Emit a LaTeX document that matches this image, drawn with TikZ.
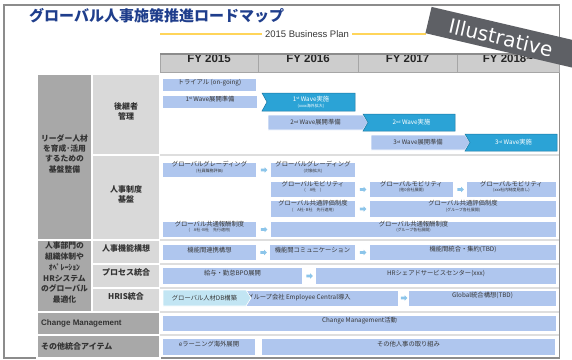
\documentclass[tikz,border=0pt]{standalone}
\usepackage{fontspec}
\setmainfont{Noto Sans CJK JP}
\newfontfamily\arial{Liberation Sans}
\newfontfamily\dejavu{DejaVu Sans}
\usetikzlibrary{fit,calc,shapes.arrows}

\definecolor{lightbox}{HTML}{AFC6EE}
\definecolor{darkbox}{HTML}{2BA3D6}
\definecolor{darkedge}{HTML}{1C78A3}
\definecolor{cyanbox}{HTML}{C2E5F3}
\definecolor{catgray}{HTML}{A8A8A8}
\definecolor{subgray}{HTML}{D9D9D9}
\definecolor{hdrgray}{HTML}{CDCDCD}
\definecolor{titleblue}{HTML}{1F3E8C}
\definecolor{planyellow}{HTML}{FFD55A}
\definecolor{arrowblue}{HTML}{8CC5EA}
\definecolor{txt}{HTML}{383838}
\definecolor{framegray}{HTML}{8C8C8C}
\definecolor{bannergray}{HTML}{5E6065}
\definecolor{sepgray}{HTML}{DEDEDE}

\newcommand\sbt[1]{{\fontsize{4}{4.5}\selectfont #1}}
\newcommand\sps[1]{\raisebox{1.8pt}{\fontsize{3.6}{4}\selectfont #1}}
\newcommand\notchbox[6]{%
  \fill[darkbox, draw=darkedge, line width=0.5pt] (#2,#3) -- (#4,#3) -- (#4,#5) -- (#2,#5) -- ({#2+5},{(#3+#5)/2}) -- cycle;
  \node[dtext] (#1) at ({(#2+#4)/2+2.5},{(#3+#5)/2}) {#6};}
\newcommand\pointbox[7]{%
  \fill[#1, draw=white, line width=0.6pt] (#3,#4) -- ({#5-5},#4) -- (#5,{(#4+#6)/2}) -- ({#5-5},#6) -- (#3,#6) -- cycle;
  \node[btext] (#2) at ({(#3+#5)/2-2.5},{(#4+#6)/2}) {#7};}
\newcommand\garr[3]{\node[garrow] (#1) at ($(#2.east)!0.5!(#3.west)$) {};}

\tikzset{
  btext/.style={inner sep=0pt, text=txt, font=\fontsize{6.3}{7}\selectfont, align=center},
  dtext/.style={inner sep=0pt, text=white, font=\fontsize{6.3}{7}\selectfont, align=center},
  lbox/.style={btext, fill=lightbox},
  hdr/.style={fill=hdrgray, draw=black!35, line width=0.6pt, inner sep=0pt, text=black!85, font=\arial\bfseries\fontsize{11.5}{12}\selectfont},
  catcell/.style={fill=catgray, draw=white, line width=1.2pt, inner sep=0pt, align=center, text=black!80, font=\bfseries\fontsize{7.8}{10.4}\selectfont},
  subcell/.style={fill=subgray, draw=white, line width=1.2pt, inner sep=0pt, align=center, text=black!80, font=\bfseries\fontsize{8}{10}\selectfont},
  leftlabel/.style={anchor=west, inner sep=0pt, text=black!80, font=\bfseries\fontsize{8}{10}\selectfont},
  garrow/.style={single arrow, fill=arrowblue, draw=none, inner sep=1.1pt, minimum height=6.5pt, single arrow head extend=1.4pt},
  sepline/.style={sepgray, line width=1.2pt}
}

\begin{document}
\begin{tikzpicture}[x=1pt,y=-1pt]
\useasboundingbox (0,0) rectangle (572,359);
\clip (0,0) rectangle (572,359);
\fill[white] (0,0) rectangle (572,359);
\draw[framegray, line width=1.5pt] (4,5) rectangle (559.5,358);

% title
\node[anchor=west, inner sep=0pt, text=titleblue, font=\bfseries\fontsize{15}{16}\selectfont] (title) at (29,16) {グローバル人事施策推進ロードマップ};
\node[inner sep=0pt, text=txt, font=\arial\fontsize{9.5}{10}\selectfont] (plan) at (307,34) {2015 Business Plan};
\coordinate (pl) at (160,34);
\coordinate (pr) at (426,34);
\draw[planyellow, line width=1.6pt] (pl) -- ([xshift=-3pt]plan.west);
\draw[planyellow, line width=1.6pt] ([xshift=3pt]plan.east) -- (pr);

% header
\node[hdr, fit={(160,54)(258,72)}] (fy15) {FY 2015};
\node[hdr, fit={(258,54)(358,72)}] (fy16) {FY 2016};
\node[hdr, fit={(358,54)(457,72)}] (fy17) {FY 2017};
\node[hdr, fit={(457,54)(559,72)}] (fy18) {FY 2018\textasciitilde};
\draw[gray!90, line width=1.2pt] (160,54) -- (559,54);

% left cells
\node[catcell, fit={(37,74)(92,240)}] (cat1) {リーダー人材\\を育成･活用\\するための\\基盤整備};
\node[subcell, fit={(92,74)(160,155)}] (sub1) {後継者\\管理};
\node[subcell, fit={(92,155)(160,240)}] (sub2) {人事制度\\基盤};
\node[catcell, font=\bfseries\fontsize{7.8}{10.8}\selectfont, fit={(37,240)(92,312)}] (cat2) {人事部門の\\組織体制や\\ｵﾍﾟﾚｰｼｮﾝ\\HRシステム\\のグローバル\\最適化};
\node[subcell, fit={(92,240)(160,264)}] (sub3) {人事機能構想};
\node[subcell, fit={(92,264)(160,288)}] (sub4) {プロセス統合};
\node[subcell, fit={(92,288)(160,312)}] (sub5) {HRIS統合};
\node[catcell, fit={(37,312)(160,335)}] (cmcell) {};
\node[catcell, fit={(37,335)(160,358)}] (othercell) {};
\node[leftlabel, font=\arial\bfseries\fontsize{8}{10}\selectfont] (cmlab) at (41,323.5) {Change Management};
\node[leftlabel] (otherlab) at (41,346.5) {その他統合アイテム};

% separators in content area
\draw[sepline] (160,155) -- (559,155);
\draw[sepline] (160,240) -- (559,240);
\draw[sepline] (160,264) -- (559,264);
\draw[sepline] (160,288) -- (559,288);
\draw[sepline] (160,312) -- (559,312);
\draw[sepline] (160,335) -- (559,335);

% row 1
\node[lbox, fit={(163,79)(256,91)}] (trial) {トライアル (on-going)};
\node[lbox, fit={(163,96)(257,108)}] (w1p) {1\sps{st} Wave展開準備};
\notchbox{w1}{262}{93}{355}{111}{1\sps{st} Wave実施\\[-1.5pt]\sbt{(xxxx海外拡大)}}
\pointbox{lightbox}{w2p}{268}{115}{368}{130}{2\sps{nd} Wave展開準備}
\notchbox{w2}{363}{114}{455}{131}{2\sps{nd} Wave実施}
\pointbox{lightbox}{w3p}{371}{135}{470}{150}{3\sps{rd} Wave展開準備}
\notchbox{w3}{465}{134}{557}{151}{3\sps{rd} Wave実施}

% row 2
\node[lbox, fit={(163,163)(256,177)}] (gg1) {グローバルグレーディング\\[-1.5pt]\sbt{(社員職務評価)}};
\node[lbox, fit={(271,163)(355,177)}] (gg2) {グローバルグレーディング\\[-1.5pt]\sbt{(対象拡大)}};
\node[lbox, fit={(271,182)(355,197)}] (gm1) {グローバルモビリティ\\[-1.5pt]\sbt{(\quad A社\quad )}};
\node[lbox, fit={(370,182)(453,197)}] (gm2) {グローバルモビリティ\\[-1.5pt]\sbt{(他0会社展開)}};
\node[lbox, fit={(467,182)(556,197)}] (gm3) {グローバルモビリティ\\[-1.5pt]\sbt{(xxx社内制度見直し)}};
\node[lbox, fit={(271,201)(355,217)}] (ge1) {グローバル共通評価制度\\[-1.5pt]\sbt{(\quad A社･B社\quad 先行適用)}};
\node[lbox, fit={(370,201)(556,217)}] (ge2) {グローバル共通評価制度\\[-1.5pt]\sbt{(グループ各社展開)}};
\node[lbox, fit={(163,222)(256,237)}] (gr1) {グローバル共通報酬制度\\[-1.5pt]\sbt{(\quad A社･B社\quad 先行適用)}};
\node[lbox, fit={(271,222)(556,237)}] (gr2) {グローバル共通報酬制度\\[-1.5pt]\sbt{(グループ各社展開)}};
\garr{a1}{gg1}{gg2}
\garr{a2}{gm1}{gm2}
\garr{a3}{gm2}{gm3}
\garr{a4}{ge1}{ge2}
\garr{a5}{gr1}{gr2}

% row 3
\node[lbox, fit={(163,245)(256,260)}] (k1) {機能間連携構想};
\node[lbox, fit={(270,245)(355,260)}] (k2) {機能間コミュニケーション};
\node[lbox, fit={(370,245)(556,260)}] (k3) {機能間統合・集約(TBD)};
\garr{a6}{k1}{k2}
\garr{a7}{k2}{k3}

% row 4
\node[lbox, fit={(163,268)(302,284)}] (p1) {給与・勤怠BPO展開};
\node[lbox, fit={(316,268)(556,284)}] (p2) {HRシェアドサービスセンター(xxx)};
\garr{a8}{p1}{p2}

% row 5
\node[lbox, fit={(246,290.5)(398,305.5)}] (h2) {};
\node[btext, anchor=west] (h2t) at (247,298) {グループ会社 Employee Central導入};
\pointbox{cyanbox}{h1}{163}{290}{251}{306}{グローバル人材DB構築}
\node[lbox, fit={(409,290.5)(556,305.5)}] (h3) {Global統合構想(TBD)};
\garr{a9}{h2}{h3}

% rows 6-7
\node[lbox, fit={(163,316)(556,331)}] (cm) {Change Management活動};
\node[lbox, fit={(163,339)(255,355)}] (el) {eラーニング海外展開};
\node[lbox, fit={(262,339)(555,355)}] (oth) {その他人事の取り組み};

% banner
\node[fill=bannergray, rotate=-13.2, minimum width=160pt, minimum height=27pt, inner sep=0pt] (ban) at (506.4,38.3) {};
\node[rotate=-13.2, text=white, inner sep=0pt, font=\dejavu\fontsize{20}{21}\selectfont] (illus) at (501,37.5) {Illustrative};
\end{tikzpicture}
\end{document}
